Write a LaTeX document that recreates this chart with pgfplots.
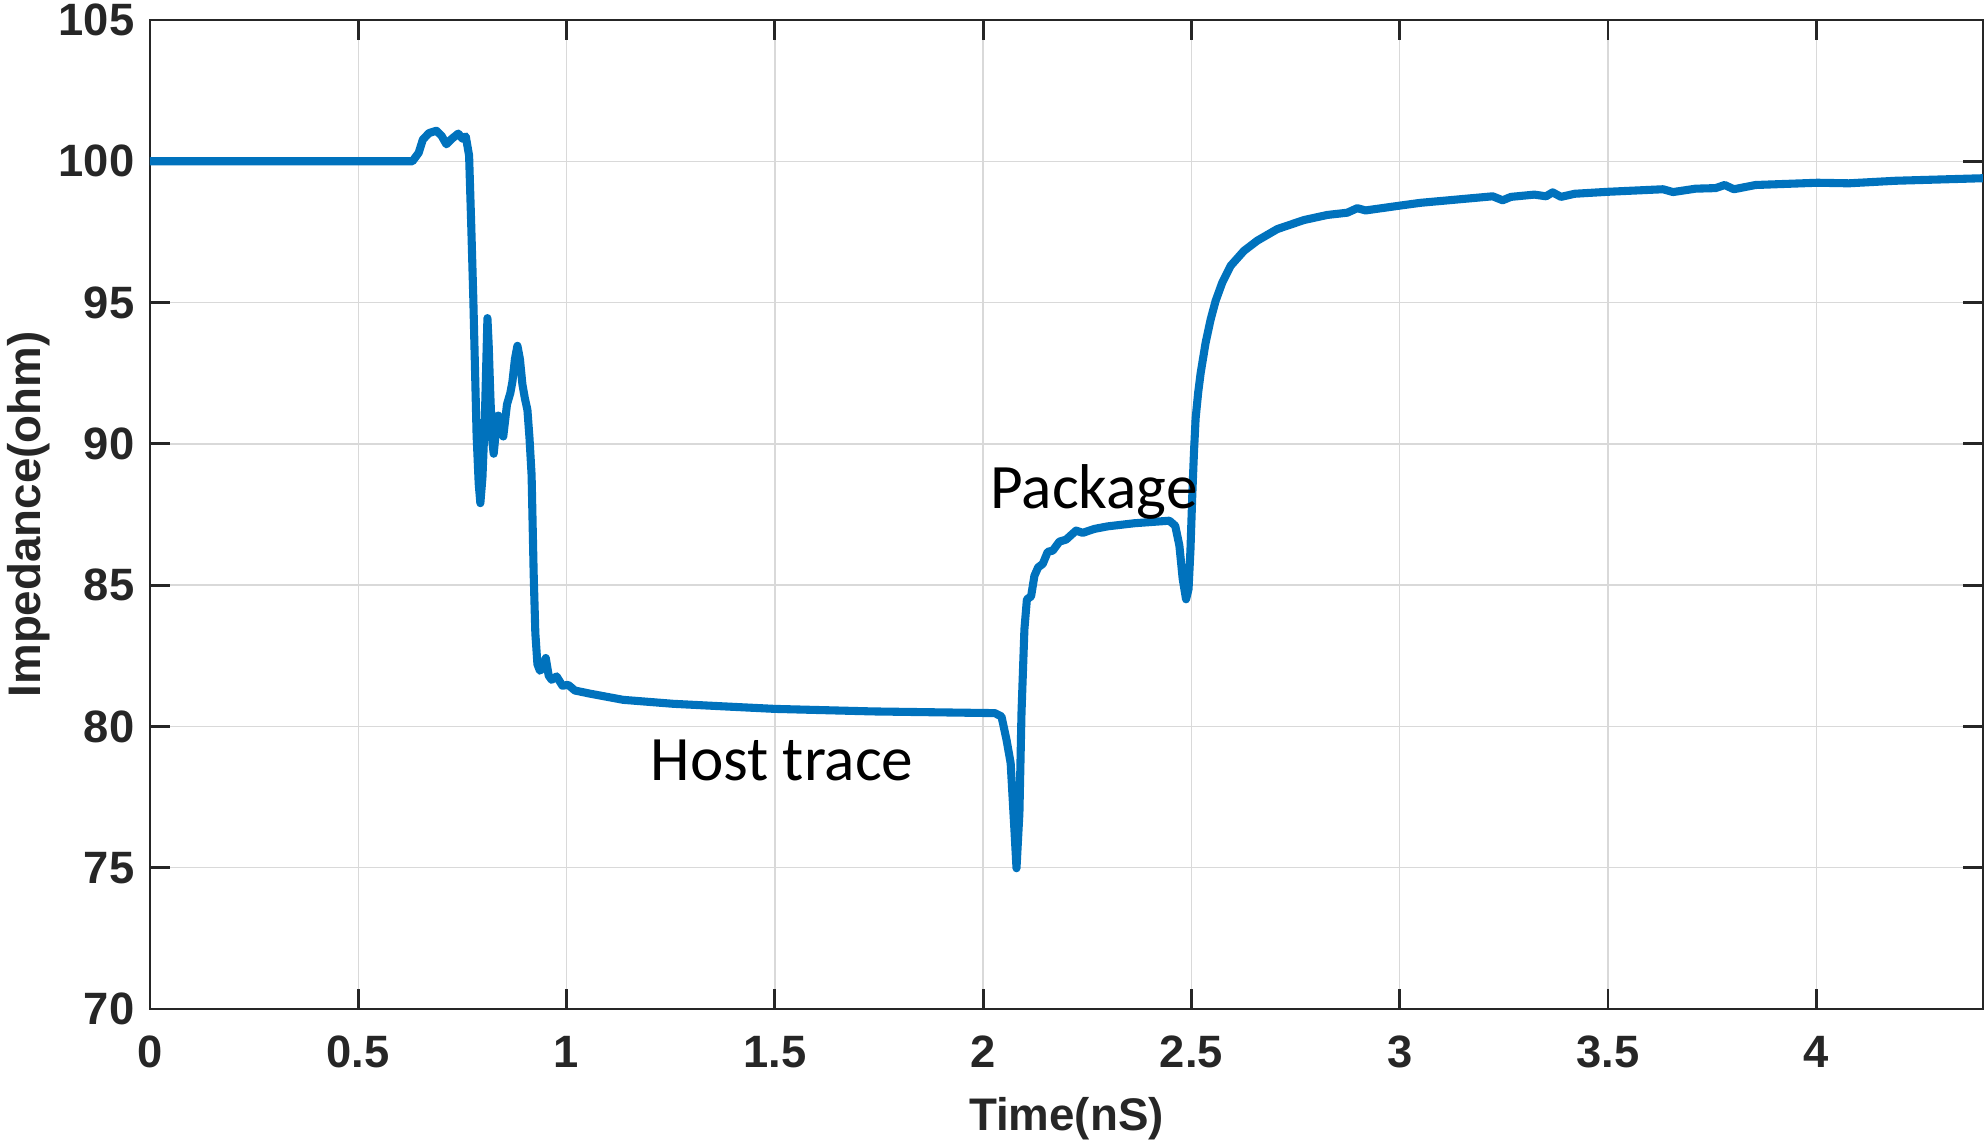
\documentclass[border=0pt]{standalone}
\usepackage{fontspec}
\setmainfont{Liberation Sans}
\newfontfamily\calfont{Carlito}
\usepackage{pgfplots}
\pgfplotsset{compat=1.18}
\definecolor{mblue}{HTML}{0072BD}
\definecolor{axgray}{HTML}{262626}

\pgfplotstableread{
t Z
0 100
0.63 100
0.645 100.3
0.655 100.77
0.67 101.0
0.6875 101.08
0.70 100.9
0.7115 100.6
0.725 100.8
0.74 100.98
0.75 100.8
0.758 100.88
0.766 100.2
0.771 97.8
0.776 95.2
0.784 90.3
0.789 88.6
0.793 87.9
0.798 88.8
0.804 91.0
0.81 94.45
0.813 93.5
0.817 91.7
0.821 90.2
0.825 89.65
0.830 90.4
0.836 91.0
0.842 90.6
0.848 90.26
0.857 91.4
0.865 91.8
0.870 92.2
0.876 93.0
0.882 93.47
0.888 93.0
0.894 92.1
0.900 91.6
0.906 91.2
0.911 90.2
0.916 88.9
0.921 85.4
0.925 83.3
0.930 82.2
0.936 81.97
0.944 82.1
0.950 82.42
0.957 81.8
0.964 81.65
0.976 81.77
0.990 81.44
1.004 81.47
1.020 81.27
1.056 81.16
1.136 80.94
1.256 80.80
1.376 80.71
1.500 80.62
1.736 80.53
2.028 80.47
2.044 80.35
2.056 79.53
2.066 78.7
2.075 76.34
2.080 74.98
2.087 76.93
2.092 80.48
2.099 83.44
2.105 84.5
2.115 84.6
2.123 85.33
2.132 85.63
2.143 85.75
2.155 86.18
2.167 86.22
2.183 86.54
2.199 86.61
2.223 86.93
2.239 86.85
2.267 86.99
2.299 87.08
2.363 87.19
2.447 87.28
2.461 87.1
2.471 86.4
2.479 85.21
2.487 84.5
2.493 84.86
2.4976 86.25
2.502 88.2
2.506 89.7
2.510 90.9
2.516 91.8
2.522 92.5
2.534 93.58
2.546 94.4
2.558 95.06
2.574 95.71
2.594 96.3
2.626 96.83
2.658 97.19
2.706 97.6
2.770 97.92
2.826 98.1
2.874 98.18
2.898 98.34
2.918 98.26
3.000 98.43
3.050 98.53
3.223 98.76
3.247 98.62
3.267 98.74
3.323 98.82
3.351 98.76
3.367 98.9
3.387 98.74
3.420 98.85
3.500 98.92
3.632 99.01
3.656 98.91
3.710 99.03
3.758 99.05
3.780 99.16
3.802 99.01
3.854 99.16
4.003 99.24
4.078 99.22
4.190 99.31
4.400 99.4
}\impedance

\begin{document}
\begin{tikzpicture}
\begin{axis}[
  at={(0,0)}, anchor=south west,
  scale only axis,
  width=18.33cm, height=9.89cm,
  xmin=0, xmax=4.4, ymin=70, ymax=105,
  xtick={0,0.5,...,4}, ytick={70,75,...,105},
  /pgf/number format/assume math mode=true,
  ticklabel style={font=\bfseries\fontsize{12.9}{14}\selectfont, text=axgray, inner sep=0pt},
  xticklabel style={anchor=north, yshift=-0.266cm},
  yticklabel style={anchor=east, xshift=-0.15cm},
  label style={font=\bfseries\fontsize{13}{15}\selectfont, text=axgray},
  xlabel={Time(nS)}, ylabel={Impedance(ohm)},
  xlabel style={at={(axis description cs:0.5,-0.1229)}, anchor=base, inner sep=0pt},
  ylabel style={at={(axis description cs:-0.0663,0.5)}, anchor=center, inner sep=0pt},
  axis line style={axgray, line width=0.8pt},
  tick style={axgray, line width=0.8pt},
  major tick length=0.2cm,
  tick align=inside,
  grid=major,
  major grid style={gray!30, line width=0.4pt},
]
\addplot[mblue, line width=2.3pt, line join=round] table[x=t, y=Z] {\impedance};
\node[anchor=base west, inner sep=0pt, font=\calfont\fontsize{18}{20}\selectfont] at (axis cs:2.016,87.70) {Package};
\node[anchor=base west, inner sep=0pt, font=\calfont\fontsize{18}{20}\selectfont] at (axis cs:1.200,78.07) {Host trace};
\end{axis}
\pgfresetboundingbox
\useasboundingbox (-1.50cm,-1.38cm) rectangle (18.35cm,10.09cm);
\end{tikzpicture}
\end{document}
